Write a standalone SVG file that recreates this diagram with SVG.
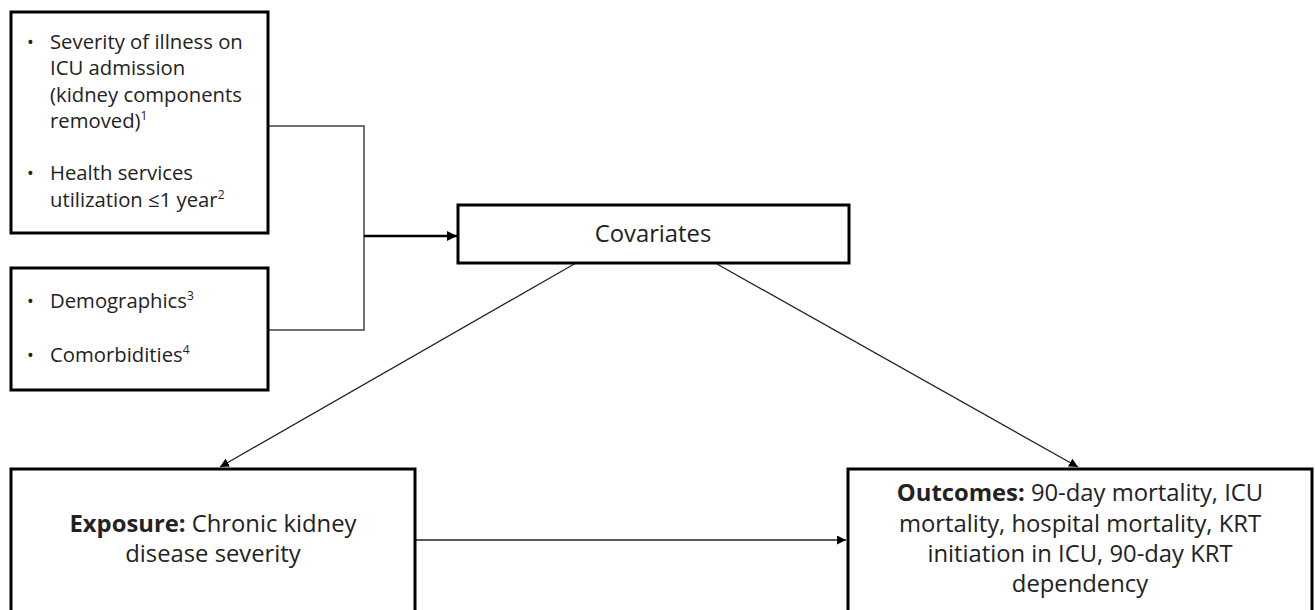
<svg xmlns="http://www.w3.org/2000/svg" width="1315" height="610" viewBox="0 0 1315 610">
<defs>
<style>
.box{fill:#fff;stroke:#000;stroke-width:3}
.t{font-family:"Open Sans","Liberation Sans",sans-serif;font-size:20.3px;fill:#222}
.L{font-size:23.8px}
.c{text-anchor:middle}
.b{font-weight:bold}
.sup{font-size:12px}
.bul{font-size:18px}
.ln{fill:none;stroke:#222;stroke-width:1.3}
.br{fill:none;stroke:#444;stroke-width:1.5}
</style>
<marker id="ah" viewBox="0 0 10 10" refX="10" refY="5" markerWidth="9" markerHeight="9" markerUnits="userSpaceOnUse" orient="auto">
<path d="M0,0 L10,5 L0,10 z" fill="#000"/>
</marker>
<marker id="ah2" viewBox="0 0 10 10" refX="10" refY="5" markerWidth="10" markerHeight="10" markerUnits="userSpaceOnUse" orient="auto">
<path d="M0,0 L10,5 L0,10 z" fill="#000"/>
</marker>
</defs>
<rect width="1315" height="610" fill="#fff"/>
<g id="connectors">
<polyline class="br" points="268,126 364,126 364,330 268,330"/>
<line x1="364" y1="236" x2="457" y2="236" stroke="#000" stroke-width="2.5" marker-end="url(#ah2)"/>
<line class="ln" x1="576" y1="263" x2="220" y2="467" marker-end="url(#ah)"/>
<line class="ln" x1="717" y1="264" x2="1078" y2="467" marker-end="url(#ah)"/>
<line class="ln" x1="415" y1="540" x2="846" y2="540" marker-end="url(#ah)"/>
</g>
<g id="box-severity">
<rect class="box" x="11" y="12" width="257" height="221"/>
<text class="t bul" x="27" y="49">•</text>
<text class="t" x="50" y="49">Severity of illness on</text>
<text class="t" x="50" y="75">ICU admission</text>
<text class="t" x="50" y="102">(kidney components</text>
<text class="t" x="50" y="128">removed)<tspan class="sup" dy="-8">1</tspan></text>
<text class="t bul" x="27" y="180">•</text>
<text class="t" x="50" y="180">Health services</text>
<text class="t" x="50" y="207">utilization ≤1 year<tspan class="sup" dy="-8">2</tspan></text>
</g>
<g id="box-demographics">
<rect class="box" x="11" y="268" width="257" height="122"/>
<text class="t bul" x="27" y="308">•</text>
<text class="t" x="50" y="308">Demographics<tspan class="sup" dy="-8">3</tspan></text>
<text class="t bul" x="27" y="362">•</text>
<text class="t" x="50" y="362">Comorbidities<tspan class="sup" dy="-8">4</tspan></text>
</g>
<g id="covariates">
<rect class="box" x="458" y="205" width="391" height="58"/>
<text class="t L c" x="653" y="242">Covariates</text>
</g>
<g id="exposure">
<rect class="box" x="11" y="469" width="404" height="160"/>
<text class="t L c" x="213" y="532"><tspan class="b">Exposure:</tspan> Chronic kidney</text>
<text class="t L c" x="213" y="562">disease severity</text>
</g>
<g id="outcomes">
<rect class="box" x="848" y="469" width="464" height="160"/>
<text class="t L c" x="1080" y="501"><tspan class="b">Outcomes:</tspan> 90-day mortality, ICU</text>
<text class="t L c" x="1080" y="532">mortality, hospital mortality, KRT</text>
<text class="t L c" x="1080" y="562">initiation in ICU, 90-day KRT</text>
<text class="t L c" x="1080" y="592">dependency</text>
</g>
</svg>
